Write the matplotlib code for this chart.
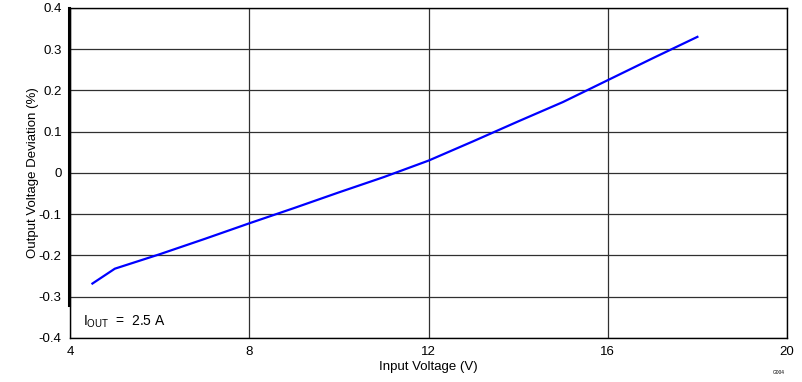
import matplotlib
matplotlib.use('Agg')
import matplotlib.pyplot as plt

plt.rcParams['font.family'] = ['Liberation Sans', 'DejaVu Sans']
plt.rcParams['mathtext.fontset'] = 'custom'
plt.rcParams['mathtext.rm'] = 'Liberation Sans'

vin = [4.5, 5, 6, 7, 8, 9, 10, 11, 12, 13, 14, 15, 16, 17, 18]
dev = [-0.268, -0.232, -0.197, -0.16, -0.122, -0.085, -0.047, -0.01,
       0.03, 0.077, 0.125, 0.172, 0.225, 0.278, 0.33]
xticks = [4, 8, 12, 16, 20]
yticks = [-0.4, -0.3, -0.2, -0.1, 0, 0.1, 0.2, 0.3, 0.4]
ylabels = ['-0.4', '-0.3', '-0.2', '-0.1', '0', '0.1', '0.2', '0.3', '0.4']

fig = plt.figure(figsize=(8.03, 3.82), dpi=100)
ax = fig.add_axes([0.0872, 0.1152, 0.8929, 0.8639])

ax.plot(vin, dev, color='#0000ff', lw=1.6, zorder=3)

ax.set_xlim(4, 20)
ax.set_ylim(-0.4, 0.4)
ax.set_xticks(xticks)
ax.set_xticklabels([str(t) for t in xticks])
ax.set_yticks(yticks)
ax.set_yticklabels(ylabels)
ax.tick_params(length=0, labelsize=9.5, pad=6)
ax.grid(True, color='#303030', lw=0.9)
for s in ax.spines.values():
    s.set_color('black')
    s.set_linewidth(1.0)

# thicker left edge segment seen in the original
ax.plot([3.97, 3.97], [-0.32, 0.4], color='black', lw=2.2, clip_on=False, zorder=4)

ax.set_xlabel('Input Voltage (V)', fontsize=9.5, labelpad=2)
ax.set_ylabel('Output Voltage Deviation (%)', fontsize=9.5, labelpad=0)

ax.text(4.3, -0.37, r'I$_{\mathrm{OUT}}$  =  2.5 A', fontsize=10)
fig.text(0.962, 0.022, 'G004', fontsize=3.5)

fig.savefig('out.png', dpi=100)
